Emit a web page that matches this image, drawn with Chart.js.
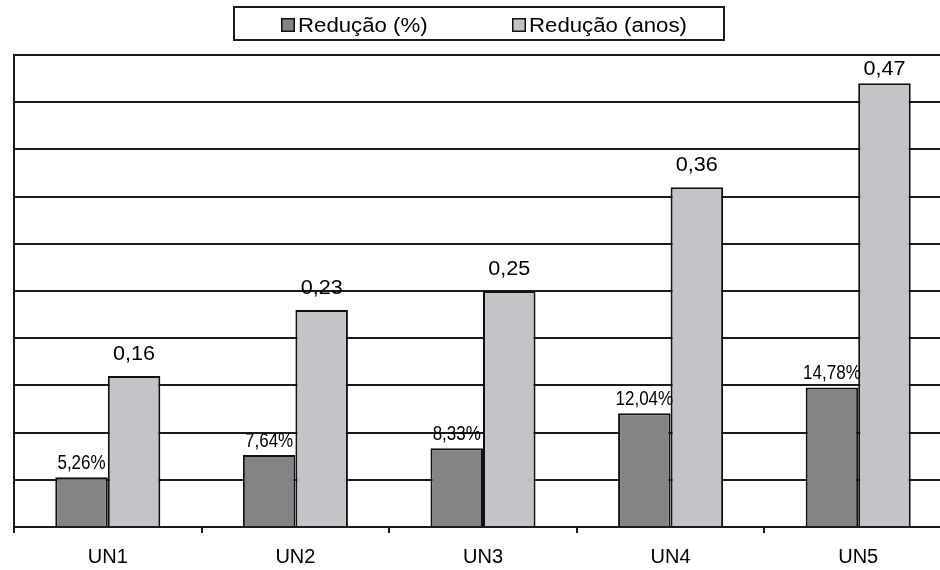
<!DOCTYPE html>
<html>
<head>
<meta charset="utf-8">
<title>Redução por unidade</title>
<script src="https://cdn.jsdelivr.net/npm/chart.js@4.4.1/dist/chart.umd.min.js"></script>
<style>
  html, body { margin: 0; padding: 0; background: #fff; overflow: hidden; }
  #wrap { width: 940px; height: 570px; overflow: hidden; position: relative; }
  #chart { display: block; }
</style>
</head>
<body>
<div id="wrap"><canvas id="chart" width="960" height="582"></canvas></div>
<script>
// Units and the two reduction series
const categories = ['UN1', 'UN2', 'UN3', 'UN4', 'UN5'];
const reducaoPct = [5.26, 7.64, 8.33, 12.04, 14.78];   // percent
const reducaoAnos = [0.16, 0.23, 0.25, 0.36, 0.47];    // years
const seriesNames = ['Redução (%)', 'Redução (anos)'];
const yMin = 0, yMax = 0.5, yStep = 0.05;

const darkFill = '#858385';
const lightFill = '#c5c3c7';
const lineCol = '#1c1c1c';
const FONT = "'Liberation Sans', Arial, sans-serif";

function fmt(v, digits) {
  return v.toFixed(digits).replace('.', ',');
}

// Draw text with a horizontal stretch factor
function drawText(ctx, text, x, y, sx, align) {
  ctx.save();
  ctx.translate(x, y);
  ctx.scale(sx, 1);
  ctx.textAlign = align;
  ctx.textBaseline = 'alphabetic';
  ctx.fillText(text, 0, 0);
  ctx.restore();
}

// Value labels above each bar
const valueLabels = {
  id: 'valueLabels',
  afterDatasetsDraw(chart) {
    const ctx = chart.ctx;
    const top = chart.chartArea.top;
    ctx.save();
    ctx.fillStyle = '#000';
    chart.getDatasetMeta(0).data.forEach((bar, i) => {
      ctx.font = '20px ' + FONT;
      drawText(ctx, fmt(reducaoPct[i], 2) + '%', bar.x, bar.y - 8, 0.85, 'center');
    });
    chart.getDatasetMeta(1).data.forEach((bar, i) => {
      ctx.font = '20px ' + FONT;
      const base = Math.max(bar.y - 16, top + 20);
      drawText(ctx, fmt(reducaoAnos[i], 2), bar.x, base, 1.08, 'center');
    });
    ctx.restore();
  }
};

// Boxed legend across the top
const boxLegend = {
  id: 'boxLegend',
  afterDraw(chart) {
    const ctx = chart.ctx;
    ctx.save();
    ctx.strokeStyle = lineCol;
    ctx.lineWidth = 2;
    ctx.strokeRect(234, 7, 490, 33);
    const items = [
      { x: 281, fill: darkFill, text: seriesNames[0] },
      { x: 512, fill: lightFill, text: seriesNames[1] }
    ];
    items.forEach(it => {
      ctx.fillStyle = it.fill;
      ctx.fillRect(it.x, 18, 14, 14);
      ctx.lineWidth = 1.5;
      ctx.strokeStyle = '#111';
      ctx.strokeRect(it.x + 0.75, 18.75, 12.5, 12.5);
      ctx.fillStyle = '#000';
      ctx.font = '20px ' + FONT;
      drawText(ctx, it.text, it.x + 17, 32, 1.11, 'left');
    });
    ctx.restore();
  }
};

new Chart(document.getElementById('chart'), {
  type: 'bar',
  data: {
    labels: categories,
    datasets: [
      {
        label: seriesNames[0],
        data: reducaoPct.map(v => v / 100),
        backgroundColor: darkFill,
        borderColor: '#111',
        borderWidth: 2,
        borderSkipped: 'bottom',
        categoryPercentage: 0.56,
        barPercentage: 1.0
      },
      {
        label: seriesNames[1],
        data: reducaoAnos,
        backgroundColor: lightFill,
        borderColor: '#111',
        borderWidth: 2,
        borderSkipped: 'bottom',
        categoryPercentage: 0.56,
        barPercentage: 1.0
      }
    ]
  },
  options: {
    responsive: false,
    animation: false,
    devicePixelRatio: 1,
    layout: { padding: { left: 14, right: 8, top: 55, bottom: 1 } },
    plugins: {
      legend: { display: false },
      tooltip: { enabled: false }
    },
    scales: {
      x: {
        grid: {
          display: true,
          drawOnChartArea: false,
          drawTicks: true,
          tickLength: 6,
          offset: true,
          color: lineCol,
          lineWidth: 2
        },
        border: { display: true, color: lineCol, width: 2 },
        ticks: {
          color: '#000',
          padding: 12,
          font: { family: FONT, size: 20 }
        }
      },
      y: {
        min: yMin,
        max: yMax,
        ticks: { display: false, stepSize: yStep },
        grid: {
          color: lineCol,
          lineWidth: 2,
          drawTicks: false,
          tickLength: 0
        },
        border: { display: true, color: lineCol, width: 2 }
      }
    }
  },
  plugins: [valueLabels, boxLegend]
});
</script>
</body>
</html>
